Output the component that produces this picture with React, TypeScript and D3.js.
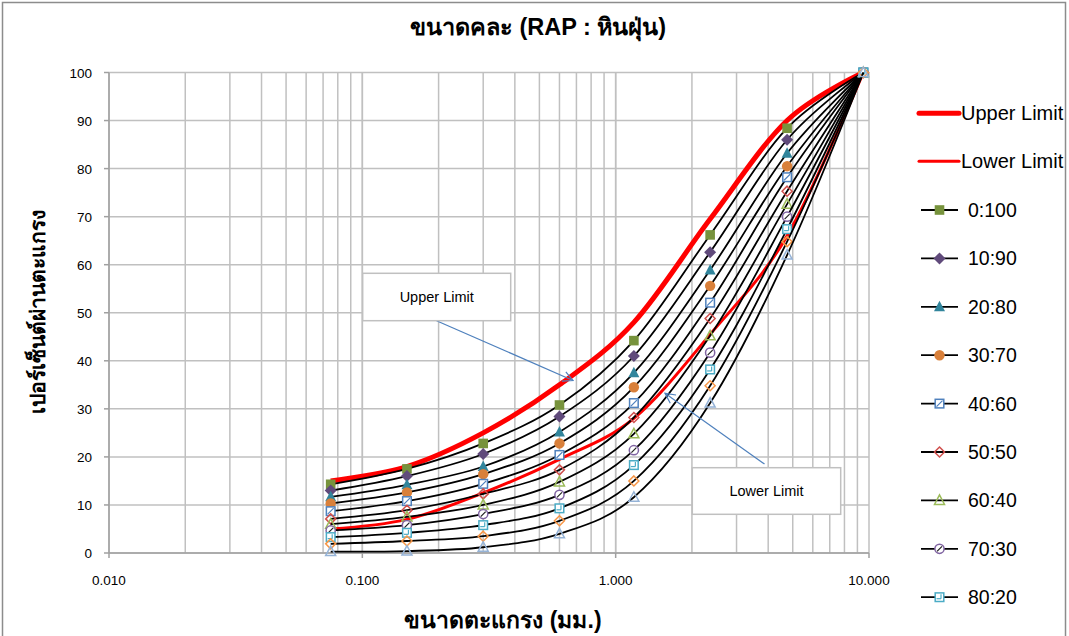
import React from "react";
import * as d3 from "d3";

const sieves = [0.075, 0.15, 0.3, 0.6, 1.18, 2.36, 4.75, 9.5];
const upperLimit = [15, 18, 25, 35, 48, 69.5, 90, 100];
const lowerLimit = [5, 7, 12.5, 19.5, 28, 45.5, 66, 100];

const blendNames = ["0:100", "10:90", "20:80", "30:70", "40:60", "50:50", "60:40", "70:30", "80:20", "90:10", "100:0"];
const s0_100 = [14.3, 17.5, 22.8, 30.8, 44.2, 66.2, 88.4, 100];
const s10_90 = [13.0, 16.0, 20.6, 28.4, 41.0, 62.6, 86.0, 100];
const s20_80 = [11.7, 14.2, 18.0, 25.2, 37.5, 58.9, 83.2, 100];
const s30_70 = [10.3, 12.6, 16.4, 22.8, 34.5, 55.6, 80.5, 100];
const s40_60 = [8.7, 10.8, 14.4, 20.4, 31.2, 52.1, 78.2, 100];
const s50_50 = [7.1, 8.9, 12.3, 17.3, 28.2, 48.8, 75.3, 100];
const s60_40 = [6.0, 7.5, 10.0, 14.8, 24.8, 45.2, 72.6, 100];
const s70_30 = [4.7, 5.8, 8.1, 12.1, 21.4, 41.7, 70.0, 100];
const s80_20 = [3.3, 4.2, 5.8, 9.3, 18.3, 38.2, 67.4, 100];
const s90_10 = [1.9, 2.5, 3.5, 6.7, 15.0, 34.8, 64.8, 100];
const s100_0 = [0.3, 0.4, 1.2, 4.0, 11.6, 31.2, 62.0, 100];
const blendValues = [s0_100, s10_90, s20_80, s30_70, s40_60, s50_50, s60_40, s70_30, s80_20, s90_10, s100_0];

const markerTypes = ["sqFill", "diaFill", "triFill", "circFill", "sqSlash", "diaOpen", "triOpen", "circSlash", "sqOpen", "diaOpen", "triOpen"];
const markerColors = ["#77933C", "#604A7B", "#31859C", "#D9803A", "#4F81BD", "#D0504D", "#9BBB59", "#8064A2", "#4BACC6", "#F79646", "#95B3D7"];

const xTickValues = [0.01, 0.1, 1, 10];
const xTickLabels = ["0.010", "0.100", "1.000", "10.000"];
const yTickValues = [0, 10, 20, 30, 40, 50, 60, 70, 80, 90, 100];

const W = 1069, H = 636;
const M = { left: 109, right: 869, top: 72.5, bottom: 553 };
const FONT = "Arial, 'Liberation Sans', sans-serif";

function Marker({ type, color, cx, cy }: { type: string; color: string; cx: number; cy: number }) {
  const s = 4.8;
  switch (type) {
    case "sqFill":
      return <rect x={cx - s} y={cy - s} width={2 * s} height={2 * s} fill={color} />;
    case "diaFill":
      return <path d={`M${cx},${cy - 6}L${cx + 6},${cy}L${cx},${cy + 6}L${cx - 6},${cy}Z`} fill={color} />;
    case "triFill":
      return <path d={`M${cx},${cy - 6}L${cx + 5.5},${cy + 4.5}L${cx - 5.5},${cy + 4.5}Z`} fill={color} />;
    case "circFill":
      return <circle cx={cx} cy={cy} r={5.2} fill={color} />;
    case "sqSlash":
      return (
        <g>
          <rect x={cx - 4.3} y={cy - 4.3} width={8.6} height={8.6} fill="#fff" stroke={color} strokeWidth={1.5} />
          <line x1={cx - 3} y1={cy + 3} x2={cx + 3} y2={cy - 3} stroke={color} strokeWidth={1.2} />
        </g>
      );
    case "diaOpen":
      return <path d={`M${cx},${cy - 5}L${cx + 5},${cy}L${cx},${cy + 5}L${cx - 5},${cy}Z`} fill="none" stroke={color} strokeWidth={1.5} />;
    case "triOpen":
      return <path d={`M${cx},${cy - 5.5}L${cx + 5},${cy + 4}L${cx - 5},${cy + 4}Z`} fill="none" stroke={color} strokeWidth={1.5} />;
    case "circSlash":
      return (
        <g>
          <circle cx={cx} cy={cy} r={4.6} fill="#fff" stroke={color} strokeWidth={1.5} />
          <line x1={cx - 2.5} y1={cy + 2.5} x2={cx + 2.5} y2={cy - 2.5} stroke="#222" strokeWidth={1.2} />
        </g>
      );
    case "sqOpen":
      return (
        <g>
          <rect x={cx - 4.3} y={cy - 4.3} width={8.6} height={8.6} fill="#fff" stroke={color} strokeWidth={1.5} />
          <line x1={cx + 1.5} y1={cy - 3} x2={cx + 1.5} y2={cy + 1.5} stroke={color} strokeWidth={1.2} />
          <line x1={cx - 3} y1={cy + 1.5} x2={cx + 1.5} y2={cy + 1.5} stroke={color} strokeWidth={1.2} />
        </g>
      );
    default:
      return null;
  }
}

export default function App() {
  const x = d3.scaleLog().domain([0.01, 10]).range([M.left, M.right]);
  const y = d3.scaleLinear().domain([0, 100]).range([M.bottom, M.top]);

  const line = d3
    .line<number>()
    .x((_, i) => x(sieves[i]))
    .y((d) => y(d))
    .curve(d3.curveCardinal.tension(0));

  const minorX: number[] = [];
  for (let dec = 0.01; dec < 10; dec *= 10) {
    for (let k = 1; k <= 10; k++) minorX.push(+(dec * k).toPrecision(3));
  }

  const gridColor = "#c0c0c0";
  const legendTop = 113.3;
  const legendStep = 48.4;

  return (
    <svg width={W} height={H} style={{ position: "absolute", left: 0, top: 0, background: "#fff" }}>
      <rect x={2.5} y={2.5} width={1063} height={650} fill="#fff" stroke="#8c8c8c" strokeWidth={1.5} />

      {/* grid */}
      {minorX.map((v, i) => (
        <line key={"gx" + i} x1={x(v)} x2={x(v)} y1={M.top} y2={M.bottom} stroke={gridColor} strokeWidth={1.5} />
      ))}
      {yTickValues.map((v) => (
        <line key={"gy" + v} x1={M.left} x2={M.right} y1={y(v)} y2={y(v)} stroke={gridColor} strokeWidth={1.5} />
      ))}

      {/* axes */}
      <line x1={M.left} x2={M.left} y1={M.top} y2={M.bottom} stroke="#a0a0a0" strokeWidth={1.5} />
      <line x1={M.left} x2={M.right} y1={M.bottom} y2={M.bottom} stroke="#a0a0a0" strokeWidth={1.5} />
      {yTickValues.map((v) => (
        <g key={"yt" + v}>
          <line x1={M.left - 5} x2={M.left} y1={y(v)} y2={y(v)} stroke="#a0a0a0" strokeWidth={1.5} />
          <text x={92} y={y(v) + 5} textAnchor="end" fontFamily={FONT} fontSize={13.5} fill="#000">
            {v}
          </text>
        </g>
      ))}
      {xTickValues.map((v, i) => (
        <g key={"xt" + v}>
          <line x1={x(v)} x2={x(v)} y1={M.bottom} y2={M.bottom + 5} stroke="#a0a0a0" strokeWidth={1.5} />
          <text x={x(v)} y={585} textAnchor="middle" fontFamily={FONT} fontSize={13.5} fill="#000">
            {xTickLabels[i]}
          </text>
        </g>
      ))}

      {/* limits */}
      <path d={line(upperLimit) || ""} fill="none" stroke="#FF0000" strokeWidth={5} />
      <path d={line(lowerLimit) || ""} fill="none" stroke="#FF0000" strokeWidth={3} />

      {/* blends */}
      {blendValues.map((vals, si) => (
        <g key={"s" + si}>
          <path d={line(vals) || ""} fill="none" stroke="#000" strokeWidth={1.8} />
          {vals.map((v, i) => (
            <Marker key={i} type={markerTypes[si]} color={markerColors[si]} cx={x(sieves[i])} cy={y(v)} />
          ))}
        </g>
      ))}

      {/* annotations */}
      <defs>
        <marker id="arr" viewBox="0 0 12 12" refX={11} refY={6} markerWidth={12} markerHeight={12} markerUnits="userSpaceOnUse" orient="auto">
          <path d="M1,1L11,6L1,11" fill="none" stroke="#4F81BD" strokeWidth={1.2} />
        </marker>
      </defs>
      <line x1={436.5} y1={320.7} x2={573} y2={380.5} stroke="#4F81BD" strokeWidth={1.2} markerEnd="url(#arr)" />
      <rect x={362.7} y={273.3} width={148} height={47.4} fill="#fff" stroke="#c0c0c0" strokeWidth={1.5} />
      <text x={436.7} y={302} textAnchor="middle" fontFamily={FONT} fontSize={14.5} fill="#000">Upper Limit</text>

      <line x1={764.5} y1={464} x2={665} y2={393.3} stroke="#4F81BD" strokeWidth={1.2} markerEnd="url(#arr)" />
      <rect x={692.3} y={467.7} width={148.4} height={46.6} fill="#fff" stroke="#c0c0c0" strokeWidth={1.5} />
      <text x={766.5} y={496} textAnchor="middle" fontFamily={FONT} fontSize={14.5} fill="#000">Lower Limit</text>

      {/* legend */}
      <line x1={919} x2={959} y1={legendTop} y2={legendTop} stroke="#FF0000" strokeWidth={5} strokeLinecap="round" />
      <text x={961} y={legendTop + 7} fontFamily={FONT} fontSize={20} fill="#000">Upper Limit</text>
      <line x1={919} x2={959} y1={legendTop + 48} y2={legendTop + 48} stroke="#FF0000" strokeWidth={3} strokeLinecap="round" />
      <text x={961} y={legendTop + 48 + 7} fontFamily={FONT} fontSize={20} fill="#000">Lower Limit</text>
      {blendNames.map((name, si) => {
        const ly = legendTop + 96.7 + si * legendStep;
        if (ly > H - 20) return null;
        return (
          <g key={"lg" + si}>
            <line x1={921} x2={958} y1={ly} y2={ly} stroke="#000" strokeWidth={1.8} />
            <Marker type={markerTypes[si]} color={markerColors[si]} cx={939.5} cy={ly} />
            <text x={968} y={ly + 7} fontFamily={FONT} fontSize={19.5} fill="#000">{name}</text>
          </g>
        );
      })}

      {/* titles */}
      <text x={538} y={35} textAnchor="middle" fontFamily={FONT} fontWeight="bold" fontSize={23.5} fill="#000">
        ขนาดคละ (RAP : หินฝุ่น)
      </text>
      <text x={503} y={628} textAnchor="middle" fontFamily={FONT} fontWeight="bold" fontSize={23} fill="#000">
        ขนาดตะแกรง (มม.)
      </text>
      <text transform="translate(45,312) rotate(-90)" textAnchor="middle" fontFamily={FONT} fontWeight="bold" fontSize={21} fill="#000">
        เปอร์เซ็นต์ผ่านตะแกรง
      </text>
    </svg>
  );
}
